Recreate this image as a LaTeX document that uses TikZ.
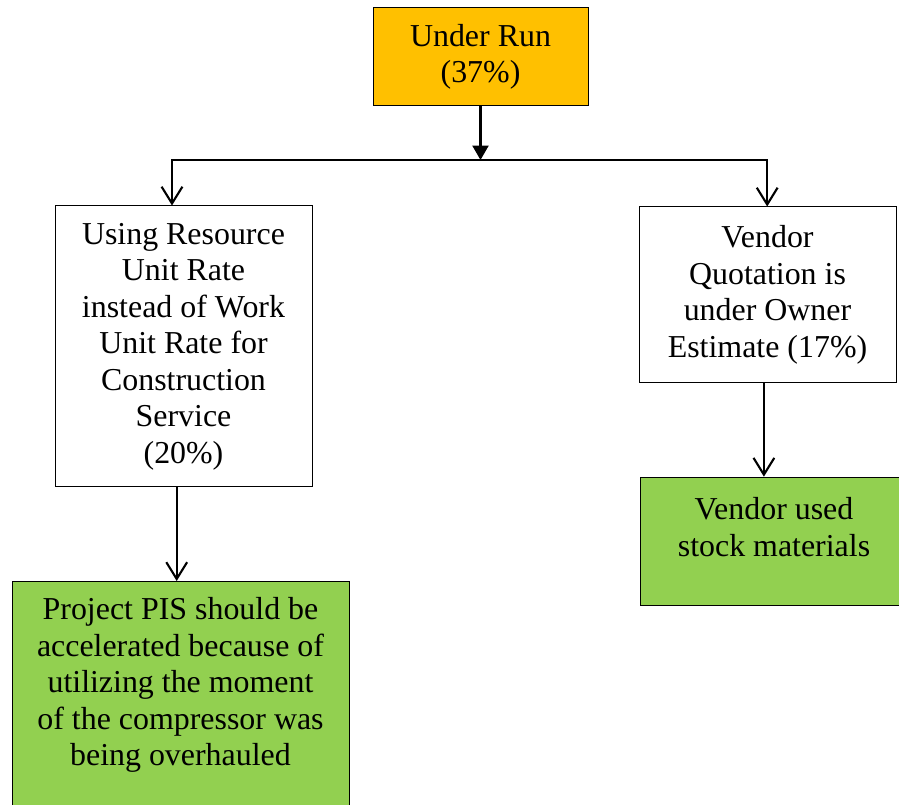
\documentclass[tikz,border=0pt]{standalone}
\usepackage{fontspec}
\setmainfont{Liberation Serif}
\usetikzlibrary{arrows.meta}
\definecolor{runorange}{HTML}{FFC000}
\definecolor{leafgreen}{HTML}{92D050}

\begin{document}
\begin{tikzpicture}[>={Straight Barb[length=4.2mm,width=5.2mm]}, line width=1.5pt,
    box/.style={draw, line width=0.7pt, align=center, inner sep=0pt, font=\fontsize{22.7}{26}\selectfont},
    txt/.style={align=center, inner sep=0pt, font=\fontsize{22.7}{26}\selectfont}]
    \useasboundingbox (0,0) rectangle (22.475,20.125);

    % Top box
    \node[box, fill=runorange, minimum width=5.375cm, minimum height=2.45cm] (run) at (12.0125,18.7) {Under Run\\(37\%)};

    % Branch line
    \coordinate (jl) at (4.3,16.125);
    \coordinate (jr) at (19.18,16.125);
    \draw[-{Triangle[length=3.6mm,width=4mm]}] (run.south) -- (run.south |- jl);

    % Middle boxes
    \node[box, minimum width=6.425cm, minimum height=7.025cm] (using) at (4.5875,11.4625) {Using Resource\\Unit Rate\\instead of Work\\Unit Rate for\\Construction\\Service\\(20\%)};
    \node[box, minimum width=6.425cm, minimum height=4.4cm] (vendor) at (19.1875,12.75) {Vendor\\Quotation is\\under Owner\\Estimate (17\%)};
    \draw[<->] (jl |- using.north) -- (jl) -- (jr) -- (jr |- vendor.north);

    % Bottom boxes
    \node[box, fill=leafgreen, minimum width=8.425cm, minimum height=6cm, anchor=north] (pis) at (4.5125,5.6) {};
    \node[txt] (pistext) at (4.5125,3.0) {Project PIS should be\\accelerated because of\\utilizing the moment\\of the compressor was\\being overhauled};
    \node[box, fill=leafgreen, minimum width=6.7cm, minimum height=3.208cm, anchor=north] (stock) at (19.35,8.208) {};
    \node[txt] (stocktext) at (19.35,6.95) {Vendor used\\stock materials};
    \draw[->] ([xshift=-1.7mm]using.south) -- ([xshift=-1.7mm]using.south |- pis.north);
    \draw[->] ([xshift=-0.9mm]vendor.south) -- ([xshift=-0.9mm]vendor.south |- stock.north);
\end{tikzpicture}
\end{document}
